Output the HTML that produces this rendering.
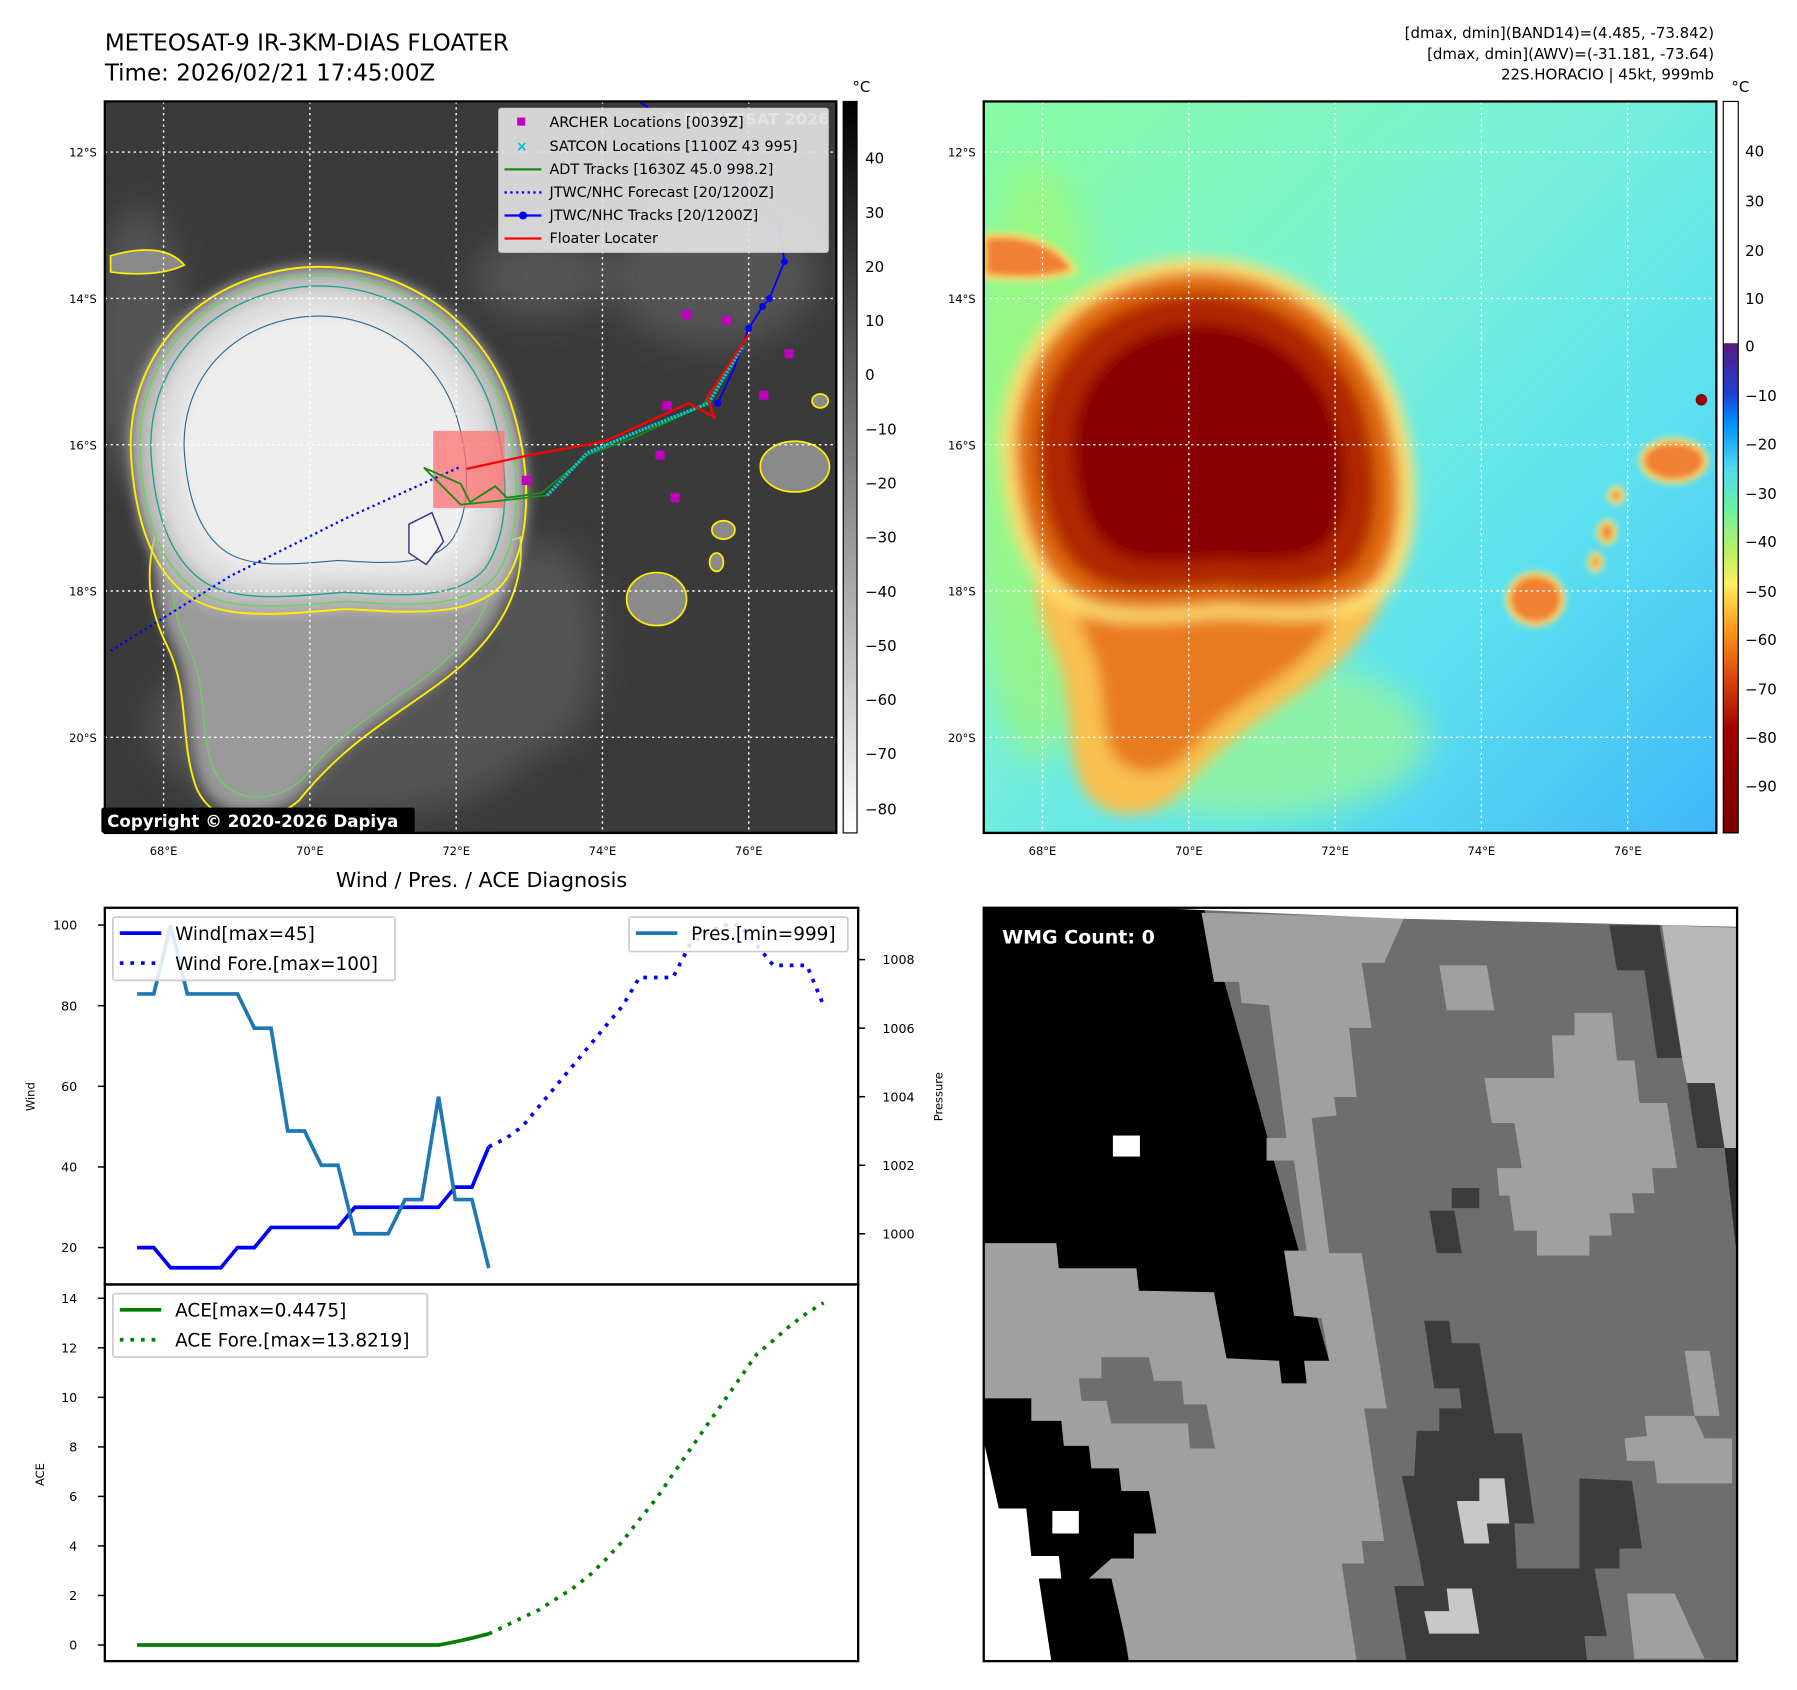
<!DOCTYPE html>
<html><head><meta charset="utf-8"><style>
html,body{margin:0;padding:0;background:#fff;}
svg{display:block;font-family:"DejaVu Sans","Liberation Sans",sans-serif;}
</style></head><body>
<svg id="root" width="1797" height="1690" viewBox="0 0 1560 1467" xmlns="http://www.w3.org/2000/svg">
<defs>
<filter id="blur3"><feGaussianBlur stdDeviation="3"/></filter>
<filter id="blur6"><feGaussianBlur stdDeviation="6"/></filter>
<filter id="blur15"><feGaussianBlur stdDeviation="15"/></filter>
<linearGradient id="cb1" x1="0" y1="0" x2="0" y2="1"><stop offset="0" stop-color="#000"/><stop offset="1" stop-color="#fff"/></linearGradient>
<linearGradient id="cb2" x1="0" y1="0" x2="0" y2="1">
<stop offset="0" stop-color="#fff"/><stop offset="0.33" stop-color="#fff"/><stop offset="0.331" stop-color="#5a1a80"/>
<stop offset="0.40" stop-color="#2040d0"/><stop offset="0.44" stop-color="#0090ff"/><stop offset="0.50" stop-color="#50d8f0"/>
<stop offset="0.56" stop-color="#70f0a0"/><stop offset="0.62" stop-color="#c0f060"/><stop offset="0.66" stop-color="#ffee60"/>
<stop offset="0.72" stop-color="#ff9a20"/><stop offset="0.78" stop-color="#e05010"/><stop offset="0.86" stop-color="#a00000"/><stop offset="1" stop-color="#7a0000"/></linearGradient>
<linearGradient id="bg2" x1="0" y1="0" x2="1" y2="1"><stop offset="0" stop-color="#88fca0"/><stop offset="0.4" stop-color="#7af2d8"/><stop offset="0.7" stop-color="#5ae0f0"/><stop offset="1" stop-color="#40b8f8"/></linearGradient>
<path id="head" d="M122,400 C115,320 170,250 260,240 C340,232 410,280 435,350 C455,410 452,470 430,500 C405,530 350,525 300,522 C250,526 200,532 170,512 C135,488 125,440 122,400 Z"/>
<path id="skirt" d="M140,470 C220,520 330,510 445,470 C450,520 420,560 380,590 C340,620 300,640 260,690 C230,715 190,712 175,680 C160,640 170,600 150,560 C135,530 132,500 140,470 Z"/>
<clipPath id="c1"><rect x="91" y="88" width="635" height="635"/></clipPath>
<clipPath id="c2"><rect x="854" y="88" width="636" height="635"/></clipPath>
</defs>

<text x="91" y="44" font-size="20">METEOSAT-9 IR-3KM-DIAS FLOATER</text>
<text x="91" y="70" font-size="20">Time: 2026/02/21 17:45:00Z</text>
<g font-size="13" text-anchor="end">
<text x="1488" y="33">[dmax, dmin](BAND14)=(4.485, -73.842)</text>
<text x="1488" y="51">[dmax, dmin](AWV)=(-31.181, -73.64)</text>
<text x="1488" y="69">22S.HORACIO | 45kt, 999mb</text>
</g>

<g clip-path="url(#c1)">
<rect x="91" y="88" width="635" height="635" fill="#3a3a3a"/>
<g filter="url(#blur15)" fill="#5c5c5c" opacity="0.8">
<ellipse cx="620" cy="240" rx="90" ry="60"/><ellipse cx="470" cy="240" rx="60" ry="35"/><ellipse cx="300" cy="630" rx="170" ry="80"/><ellipse cx="470" cy="560" rx="50" ry="90"/><ellipse cx="120" cy="300" rx="40" ry="120"/>
</g>
<g filter="url(#blur6)"><use href="#skirt" fill="#9a9a9a"/></g>
<use href="#skirt" fill="none" stroke="#ffee00" stroke-width="1.6" transform="translate(280,560) scale(1.04) translate(-280,-560)"/>
<use href="#skirt" fill="none" stroke="#6ed060" stroke-width="1.2" transform="translate(280,560) scale(0.9) translate(-280,-560)"/>
<g filter="url(#blur6)">
<use href="#head" fill="#b8b8b8" transform="translate(280,390) scale(1.05) translate(-280,-390)"/>
<use href="#head" fill="#dedede" transform="translate(280,390) scale(0.92) translate(-280,-390)"/>
<use href="#head" fill="#eeeeee" transform="translate(280,390) scale(0.78) translate(-280,-390)"/>
</g>
<use href="#head" fill="none" stroke="#ffee00" stroke-width="1.6" transform="translate(280,390) scale(1.05) translate(-280,-390)"/>
<use href="#head" fill="none" stroke="#6ed060" stroke-width="1.3" transform="translate(280,390) scale(1.0) translate(-280,-390)"/>
<use href="#head" fill="none" stroke="#23a08a" stroke-width="1.3" transform="translate(280,390) scale(0.94) translate(-280,-390)"/>
<use href="#head" fill="none" stroke="#2a6a90" stroke-width="1.3" transform="translate(275,380) scale(0.75) translate(-275,-380)"/>
<path d="M355,455 L375,445 L385,470 L370,490 L355,480 Z" fill="#f4f4f4" stroke="#3a3a8a" stroke-width="1.3"/>
<g fill="#8a8a8a" stroke="#ffee00" stroke-width="1.5">
<ellipse cx="570" cy="520" rx="26" ry="23"/><ellipse cx="690" cy="405" rx="30" ry="22"/><ellipse cx="628" cy="460" rx="10" ry="8"/><ellipse cx="622" cy="488" rx="6" ry="8"/><ellipse cx="712" cy="348" rx="7" ry="6"/>
<path d="M96,222 C130,212 150,218 160,230 C140,240 110,238 96,236 Z"/>
</g>
<g stroke="#fff" stroke-width="1.2" stroke-dasharray="2,3">
<line x1="142" y1="88" x2="142" y2="723"/><line x1="269" y1="88" x2="269" y2="723"/><line x1="396" y1="88" x2="396" y2="723"/><line x1="523" y1="88" x2="523" y2="723"/><line x1="650" y1="88" x2="650" y2="723"/>
<line x1="91" y1="132" x2="726" y2="132"/><line x1="91" y1="259" x2="726" y2="259"/><line x1="91" y1="386" x2="726" y2="386"/><line x1="91" y1="513" x2="726" y2="513"/><line x1="91" y1="640" x2="726" y2="640"/>
</g>
<rect x="376" y="374" width="62" height="67" fill="#ff7070" opacity="0.75"/>
<polyline points="96,565 200,500 300,450 400,405" fill="none" stroke="#0000ff" stroke-width="2" stroke-dasharray="2,3"/>
<polyline points="555,88 615,130 676,195 681,227 668,259 662,266 650,285 638,318 623,350" fill="none" stroke="#0000ff" stroke-width="1.6"/>
<g fill="#0000ff"><circle cx="681" cy="227" r="3"/><circle cx="668" cy="259" r="3"/><circle cx="662" cy="266" r="3"/><circle cx="650" cy="285" r="3"/><circle cx="623" cy="350" r="3"/></g>
<polyline points="475,430 440,434 400,438 368,406 400,420 408,436 430,422 440,432 470,428 510,395 550,380 610,352 650,290" fill="none" stroke="#1a8a1a" stroke-width="1.6"/>
<polyline points="475,430 510,393 560,372 615,350 645,300" fill="none" stroke="#00c8c8" stroke-width="3" stroke-dasharray="2,1"/>
<polyline points="405,407 460,395 525,383 598,350 620,362 614,345 650,290" fill="none" stroke="#ff0000" stroke-width="2"/>
<g fill="#c000c0">
<rect x="592" y="269" width="8" height="8"/><rect x="627" y="274" width="8" height="8"/><rect x="681" y="303" width="8" height="8"/><rect x="659" y="339" width="8" height="8"/><rect x="575" y="348" width="8" height="8"/><rect x="569" y="391" width="8" height="8"/><rect x="582" y="428" width="8" height="8"/><rect x="453" y="413" width="8" height="8"/></g>
<text x="720" y="108" font-size="14" fill="#ddd" text-anchor="end" font-weight="bold">© EUMETSAT 2026</text>
<g>
<rect x="433" y="94" width="286" height="125" fill="#e2e2e2" fill-opacity="0.92" stroke="#ccc" rx="2"/>
<g font-size="12.5">
<rect x="449" y="102" width="7" height="7" fill="#c000c0"/><text x="477" y="110">ARCHER Locations [0039Z]</text>
<text x="453" y="131" fill="#00c0c0" font-size="12" text-anchor="middle" font-weight="bold">×</text><text x="477" y="131">SATCON Locations [1100Z 43 995]</text>
<line x1="438" y1="147" x2="470" y2="147" stroke="#1a8a1a" stroke-width="2"/><text x="477" y="151">ADT Tracks [1630Z 45.0 998.2]</text>
<line x1="438" y1="167" x2="470" y2="167" stroke="#0000ff" stroke-width="2" stroke-dasharray="2,3"/><text x="477" y="171">JTWC/NHC Forecast [20/1200Z]</text>
<line x1="438" y1="187" x2="470" y2="187" stroke="#0000ff" stroke-width="2"/><circle cx="454" cy="187" r="3.5" fill="#0000ff"/><text x="477" y="191">JTWC/NHC Tracks [20/1200Z]</text>
<line x1="438" y1="207" x2="470" y2="207" stroke="#ff0000" stroke-width="2"/><text x="477" y="211">Floater Locater</text>
</g></g>
</g>
<rect x="91" y="88" width="635" height="635" fill="none" stroke="#000" stroke-width="2"/>
<rect x="88" y="701" width="272" height="22" fill="#000" rx="2"/>
<text x="93" y="718" font-size="14.5" font-weight="bold" fill="#fff">Copyright © 2020-2026 Dapiya</text>

<g font-size="10">
<g text-anchor="end"><text x="84" y="136">12°S</text><text x="84" y="263">14°S</text><text x="84" y="390">16°S</text><text x="84" y="517">18°S</text><text x="84" y="644">20°S</text>
<text x="847" y="136">12°S</text><text x="847" y="263">14°S</text><text x="847" y="390">16°S</text><text x="847" y="517">18°S</text><text x="847" y="644">20°S</text></g>
<g text-anchor="middle"><text x="142" y="742">68°E</text><text x="269" y="742">70°E</text><text x="396" y="742">72°E</text><text x="523" y="742">74°E</text><text x="650" y="742">76°E</text>
<text x="905" y="742">68°E</text><text x="1032" y="742">70°E</text><text x="1159" y="742">72°E</text><text x="1286" y="742">74°E</text><text x="1413" y="742">76°E</text></g>
</g>

<rect x="732" y="88" width="12" height="635" fill="url(#cb1)" stroke="#000" stroke-width="1"/>
<text x="740" y="80" font-size="13">°C</text>
<g font-size="13">
<text x="751" y="142">40</text><text x="751" y="189">30</text><text x="751" y="236">20</text><text x="751" y="283">10</text><text x="751" y="330">0</text><text x="751" y="377">−10</text><text x="751" y="424">−20</text><text x="751" y="471">−30</text><text x="751" y="518">−40</text><text x="751" y="565">−50</text><text x="751" y="612">−60</text><text x="751" y="659">−70</text><text x="751" y="707">−80</text></g>

<g clip-path="url(#c2)">
<rect x="854" y="88" width="636" height="635" fill="url(#bg2)"/>
<g filter="url(#blur15)" opacity="0.7"><ellipse cx="900" cy="400" rx="60" ry="260" fill="#a0f870"/><ellipse cx="1090" cy="640" rx="150" ry="70" fill="#a0f890"/></g>
<g transform="translate(763,0)">
<g filter="url(#blur6)">
<use href="#skirt" fill="#f8c050"/>
<use href="#skirt" fill="#e87a20" transform="translate(280,560) scale(0.75) translate(-280,-560)"/>
<use href="#head" fill="#ffe070" transform="translate(280,390) scale(1.1) translate(-280,-390)"/>
<use href="#head" fill="#e06a10" transform="translate(280,390) scale(1.02) translate(-280,-390)"/>
<use href="#head" fill="#b02800" transform="translate(280,390) scale(0.9) translate(-280,-390)"/>
<use href="#head" fill="#880600" transform="translate(290,390) scale(0.72) translate(-290,-390)"/>
</g>
<g filter="url(#blur3)" fill="#f08030" stroke="#ffe070" stroke-width="4">
<ellipse cx="570" cy="520" rx="24" ry="22"/><ellipse cx="690" cy="400" rx="28" ry="18"/><ellipse cx="640" cy="430" rx="6" ry="6"/><ellipse cx="632" cy="462" rx="7" ry="9"/><ellipse cx="622" cy="488" rx="5" ry="7"/>
<path d="M91,205 C130,200 160,215 170,235 C140,245 110,242 91,240 Z"/>
</g>
<circle cx="714" cy="347" r="5" fill="#900000"/>
</g>
<g stroke="#fff" stroke-width="1.2" stroke-dasharray="2,3">
<line x1="905" y1="88" x2="905" y2="723"/><line x1="1032" y1="88" x2="1032" y2="723"/><line x1="1159" y1="88" x2="1159" y2="723"/><line x1="1286" y1="88" x2="1286" y2="723"/><line x1="1413" y1="88" x2="1413" y2="723"/>
<line x1="854" y1="132" x2="1490" y2="132"/><line x1="854" y1="259" x2="1490" y2="259"/><line x1="854" y1="386" x2="1490" y2="386"/><line x1="854" y1="513" x2="1490" y2="513"/><line x1="854" y1="640" x2="1490" y2="640"/>
</g>
</g>
<rect x="854" y="88" width="636" height="635" fill="none" stroke="#000" stroke-width="2"/>
<rect x="1496" y="88" width="13" height="635" fill="url(#cb2)" stroke="#000" stroke-width="1"/>
<text x="1503" y="80" font-size="13">°C</text>
<g font-size="13">
<text x="1515" y="136">40</text><text x="1515" y="179">30</text><text x="1515" y="222">20</text><text x="1515" y="264">10</text><text x="1515" y="305">0</text><text x="1515" y="348">−10</text><text x="1515" y="390">−20</text><text x="1515" y="433">−30</text><text x="1515" y="475">−40</text><text x="1515" y="518">−50</text><text x="1515" y="560">−60</text><text x="1515" y="603">−70</text><text x="1515" y="645">−80</text><text x="1515" y="687">−90</text></g>

<svg x="854" y="788" width="654" height="654" viewBox="0 0 1505 1505" preserveAspectRatio="none">
<rect width="1505" height="1505" fill="#6e6e6e"/>
<polygon points="0,0 440,0 690,905 645,950 595,950 350,1300 260,1340 290,1505 0,1505" fill="#000"/>
<polygon fill="#a0a0a0" points="0,670 145,670 150,720 305,720 310,765 460,768 485,900 590,905 595,950 645,950 640,905 690,905 675,820 620,815 600,685 645,685 620,505 565,505 565,460 605,460 570,195 515,190 510,148 460,148 435,10 840,20 800,110 755,110 775,240 730,240 745,378 700,378 705,415 655,420 690,690 755,690 805,1000 760,1000 800,1265 755,1265 760,1310 715,1310 745,1505 290,1505 285,1470 255,1340 210,1340 255,1300 300,1300 300,1250 345,1250 330,1165 275,1165 270,1120 215,1120 210,1075 160,1075 155,1025 95,1025 95,980 0,980"/>
<polygon fill="#6e6e6e" points="190,940 235,940 235,898 330,898 340,945 395,945 400,992 445,992 462,1080 412,1080 408,1030 255,1030 245,985 195,985"/>
<polygon fill="#fff" points="0,1065 30,1200 85,1200 95,1295 150,1295 155,1340 110,1340 135,1505 0,1505"/>
<rect x="258" y="455" width="54" height="42" fill="#fff"/><rect x="137" y="1205" width="53" height="45" fill="#fff"/>
<polygon fill="#3c3c3c" points="880,825 930,825 935,870 990,870 1020,1050 1075,1050 1100,1230 1060,1230 1065,1320 1190,1320 1190,1140 1295,1145 1315,1280 1270,1280 1270,1320 1220,1320 1245,1455 1200,1455 1205,1505 845,1505 820,1355 880,1355 870,1300 835,1135 860,1135 865,1045 910,1045 910,1000 955,1000 950,960 900,960"/>
<polygon fill="#3c3c3c" points="1250,35 1350,35 1395,300 1345,300 1320,125 1265,125"/>
<polygon fill="#3c3c3c" points="1405,350 1460,350 1480,480 1425,480"/>
<polygon fill="#b8b8b8" points="1355,35 1505,40 1505,480 1480,480 1460,350 1405,350 1395,300"/>
<polygon fill="#a0a0a0" points="1180,210 1255,210 1265,305 1300,305 1310,390 1365,390 1385,520 1335,520 1340,570 1295,570 1300,610 1250,610 1255,655 1210,655 1210,695 1105,695 1105,645 1060,645 1050,575 1030,575 1025,520 1075,520 1060,430 1015,430 1000,340 1140,340 1135,255 1180,255"/>
<polygon fill="#a0a0a0" points="910,115 1005,115 1020,205 925,205"/>
<polygon fill="#a0a0a0" points="1320,1015 1420,1015 1440,1060 1495,1060 1495,1150 1345,1150 1340,1105 1285,1105 1280,1060 1325,1055"/>
<polygon fill="#a0a0a0" points="1285,1370 1380,1370 1440,1500 1300,1500"/>
<polygon fill="#a0a0a0" points="1400,885 1450,885 1470,1015 1420,1015"/>
<polygon fill="#c8c8c8" points="990,1140 1040,1140 1050,1230 1005,1230 1010,1270 960,1270 945,1185 990,1185"/>
<polygon fill="#c8c8c8" points="925,1360 975,1360 990,1450 890,1450 880,1405 930,1405"/>
<rect x="935" y="560" width="55" height="40" fill="#3c3c3c"/><polygon fill="#3c3c3c" points="890,605 940,605 955,690 905,690"/>
<polygon fill="#fff" points="330,0 1505,0 1505,38 840,22"/>
<polygon fill="#2a2a2a" points="1480,480 1505,480 1505,700"/>
</svg>
<rect x="854" y="788" width="654" height="654" fill="none" stroke="#000" stroke-width="2"/>
<text x="870" y="819" font-size="16.5" font-weight="bold" fill="#fff">WMG Count: 0</text>

<text x="418" y="770" font-size="18" text-anchor="middle">Wind / Pres. / ACE Diagnosis</text>
<g id="chart"></g>
</svg>
<script>
const windObs = [20,20,15,15,15,15,20,20,25,25,25,25,25,30,30,30,30,30,30,35,35,45];
const windFore = [45,47,50,55,60,65,70,75,80,87,87,87,95,98,100,100,95,90,90,90,80];
const presObs = [1007,1007,1009,1007,1007,1007,1007,1006,1006,1003,1003,1002,1002,1000,1000,1000,1001,1001,1004,1001,1001,999];
const aceObs = [0,0,0,0,0,0,0,0,0,0,0,0,0,0,0,0,0,0,0,0.13,0.28,0.45];
const aceFore = [0.45,0.77,1.1,1.42,1.85,2.28,2.8,3.46,4.2,5.07,5.9,6.9,7.87,8.84,9.8,10.77,11.74,12.3,12.9,13.4,13.82];
const windTicks = [20,40,60,80,100];
const presTicks = [1000,1002,1004,1006,1008];
const aceTicks = [0,2,4,6,8,10,12,14];

const NS = 'http://www.w3.org/2000/svg';
const g = document.getElementById('chart');
const L = 91, R = 745, T1 = 788, B1 = 1115, T2 = 1115, B2 = 1442;
const xS = i => 119 + i * (596 / 41);
const yW = v => 803 + (100 - v) * 3.5;
const yP = p => 1071 - (p - 1000) * 29.75;
const yA = a => 1428 - a * 21.5;
function mk(tag, attrs, parent) {
  const e = document.createElementNS(NS, tag);
  for (const k in attrs) e.setAttribute(k, attrs[k]);
  (parent || g).appendChild(e);
  return e;
}
function line(arr, off, ys, color, dash, name) {
  const pts = arr.map((v, i) => xS(i + off).toFixed(1) + ',' + ys(v).toFixed(1)).join(' ');
  const e = mk('polyline', {points: pts, fill: 'none', stroke: color, 'stroke-width': 3.2, 'stroke-dasharray': dash || 'none'});
  
  
}
mk('rect', {x: L, y: T1, width: R - L, height: B2 - T1, fill: '#fff'});
line(windObs, 0, yW, '#0000ff', null, 'wind-line');
line(windFore, 21, yW, '#0000ff', '3.2,6', 'wind-forecast-line');
line(presObs, 0, yP, '#1f77b4', null, 'pressure-line');
line(aceObs, 0, yA, '#008000', null, 'ace-line');
line(aceFore, 21, yA, '#008000', '3.2,6', 'ace-forecast-line');
mk('rect', {x: L, y: T1, width: R - L, height: B1 - T1, fill: 'none', stroke: '#000', 'stroke-width': 2});
mk('rect', {x: L, y: T2, width: R - L, height: B2 - T2, fill: 'none', stroke: '#000', 'stroke-width': 2});
function tick(x1, x2, y, label, anchor, tx, name) {
  mk('line', {x1: x1, x2: x2, y1: y, y2: y, stroke: '#000', 'stroke-width': 1.3});
  const t = mk('text', {x: tx, y: y + 4, 'font-size': 11, 'text-anchor': anchor});
  t.textContent = label;
  
  
}
windTicks.forEach(v => tick(L - 6, L, yW(v), v, 'end', L - 24, 'wind-tick-label'));
presTicks.forEach(v => tick(R, R + 6, yP(v), v, 'start', R + 21, 'pressure-tick-label'));
aceTicks.forEach(v => tick(L - 6, L, yA(v), v, 'end', L - 24, 'ace-tick-label'));
function rotText(x, y, s, name) {
  const t = mk('text', {x: x, y: y, 'font-size': 10, 'text-anchor': 'middle', transform: 'rotate(-90 ' + x + ' ' + y + ')'});
  t.textContent = s;
  
  
}
rotText(30, 952, 'Wind', 'wind-axis-title');
rotText(38, 1280, 'ACE', 'ace-axis-title');
rotText(818, 952, 'Pressure', 'pressure-axis-title');
function legend(x, y, w, h, items, name) {
  const lg = mk('g', {});
  
  
  mk('rect', {x: x, y: y, width: w, height: h, fill: '#fff', 'fill-opacity': 0.85, stroke: '#ccc', 'stroke-width': 1.5, rx: 2}, lg);
  items.forEach((it, k) => {
    const yy = y + 14 + k * 26;
    mk('line', {x1: x + 6, x2: x + 42, y1: yy, y2: yy, stroke: it.c, 'stroke-width': 3.2, 'stroke-dasharray': it.d || 'none'}, lg);
    const t = mk('text', {x: x + 54, y: yy + 6, 'font-size': 16}, lg);
    t.textContent = it.t;
  });
}
legend(98, 796, 245, 55, [{c: '#0000ff', t: 'Wind[max=45]'}, {c: '#0000ff', d: '3.2,6', t: 'Wind Fore.[max=100]'}], 'wind-legend');
legend(546, 796, 190, 30, [{c: '#1f77b4', t: 'Pres.[min=999]'}], 'pressure-legend');
legend(98, 1123, 273, 55, [{c: '#008000', t: 'ACE[max=0.4475]'}, {c: '#008000', d: '3.2,6', t: 'ACE Fore.[max=13.8219]'}], 'ace-legend');
</script>
</body></html>
